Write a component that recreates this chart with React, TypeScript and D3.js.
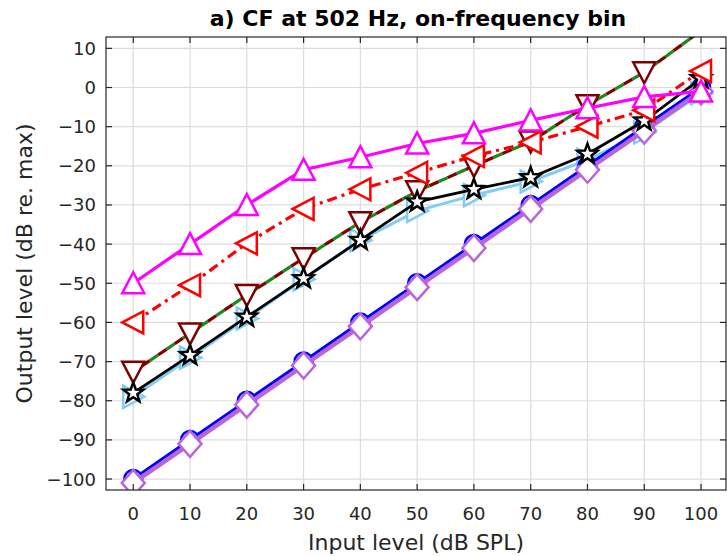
import React from "react";
import * as d3 from "d3";

const inputLevels = [0, 10, 20, 30, 40, 50, 60, 70, 80, 90, 100];
const xTicks = [0, 10, 20, 30, 40, 50, 60, 70, 80, 90, 100];
const yTicks = [10, 0, -10, -20, -30, -40, -50, -60, -70, -80, -90, -100];

const lightBlueSeries = [-79, -69, -59, -49, -39, -31.5, -27.5, -24, -18.5, -11.5, -1.5];
const blueSeries = [-100, -90, -80, -70, -60, -50, -40, -30, -20, -10, 0];
const purpleSeries = [-101, -91, -81, -71, -61, -51, -41, -31, -21, -11, -1];
const greenSeries = [-72.6, -62.8, -53, -43.6, -34.4, -26.5, -20, -13.8, -4.5, 3.9, 14.5];
const maroonSeries = [-72.6, -62.8, -53, -43.6, -34.4, -26.5, -20, -13.8, -4.5, 3.9, 14.5];
const blackSeries = [-78, -68.4, -58.6, -48.8, -39, -29.2, -26, -23, -17, -8.5, 2.3];
const redSeries = [-60, -50.5, -39.8, -31, -26, -21.8, -17.5, -14, -10, -5.8, 4.2];
const magentaSeries = [-50, -40, -30, -21, -17.8, -14.3, -11.7, -8.4, -5.3, -2.4, -1];

const title = "a) CF at 502 Hz, on-frequency bin";
const xLabel = "Input level (dB SPL)";
const yLabel = "Output level (dB re. max)";

type Marker = "none" | "tri-up" | "tri-down" | "tri-left" | "tri-right" | "circle" | "diamond" | "star";

const seriesDefs = [
  { name: "lightblue", values: lightBlueSeries, color: "#80CCF5", width: 3, dash: "", marker: "tri-right" as Marker, mw: 2.5, offset: 0 },
  { name: "blue", values: blueSeries, color: "#0000FF", width: 3.2, dash: "", marker: "circle" as Marker, mw: 2.5, offset: 0 },
  { name: "purple", values: purpleSeries, color: "#BA64DA", width: 4.5, dash: "", marker: "diamond" as Marker, mw: 2.5, offset: 0 },
  { name: "green", values: greenSeries, color: "#1A8A1A", width: 3.2, dash: "10,10", marker: "none" as Marker, mw: 2.5, offset: 0 },
  { name: "maroon", values: maroonSeries, color: "#800000", width: 3.2, dash: "10,10", marker: "tri-down" as Marker, mw: 2.5, offset: 10 },
  { name: "black", values: blackSeries, color: "#000000", width: 2.8, dash: "", marker: "star" as Marker, mw: 2.5, offset: 0 },
  { name: "red", values: redSeries, color: "#FF0000", width: 3.2, dash: "10,5,3,5", marker: "tri-left" as Marker, mw: 2.5, offset: 0 },
  { name: "magenta", values: magentaSeries, color: "#FF00FF", width: 3.2, dash: "", marker: "tri-up" as Marker, mw: 2.5, offset: 0 },
];

function markerPath(m: Marker): string {
  switch (m) {
    case "tri-up":
      return "M0,-11L11,10L-11,10Z";
    case "tri-down":
      return "M0,11L11,-10L-11,-10Z";
    case "tri-left":
      return "M-11,0L10,-11L10,11Z";
    case "tri-right":
      return "M11,0L-10,-11L-10,11Z";
    case "diamond":
      return "M0,-13L11.5,0L0,13L-11.5,0Z";
    case "circle":
      return "M9,0A9,9 0 1,1 -9,0A9,9 0 1,1 9,0Z";
    case "star": {
      const pts: string[] = [];
      for (let i = 0; i < 10; i++) {
        const r = i % 2 === 0 ? 10.5 : 4.3;
        const a = -Math.PI / 2 + (i * Math.PI) / 5;
        pts.push(`${(r * Math.cos(a)).toFixed(2)},${(r * Math.sin(a)).toFixed(2)}`);
      }
      return "M" + pts.join("L") + "Z";
    }
    default:
      return "";
  }
}

const W = 727;
const H = 556;
const left = 106;
const right = 726;
const top = 37;
const bottom = 490;

export default function App() {
  const yDomain: [number, number] = [-102.8, 12.9];
  const x = d3.scaleLinear().domain([-4.8, 104.4]).range([left, right]);
  const y = d3.scaleLinear().domain(yDomain).range([bottom, top]);
  const line = d3
    .line<number>()
    .x((_, i) => x(inputLevels[i]))
    .y((d) => y(d));
  const axisColor = "#262626";
  const font = "'DejaVu Sans', sans-serif";

  return (
    <svg width={W} height={H} style={{ position: "absolute", left: 0, top: 0, background: "#fff" }}>
      <defs>
        <clipPath id="plotclip">
          <rect x={left} y={top} width={right - left} height={bottom - top} />
        </clipPath>
      </defs>
      <rect x={0} y={0} width={W} height={H} fill="#fff" />
      {/* grid */}
      <g stroke="#dcdcdc" strokeWidth={1.2}>
        {xTicks.map((t) => (
          <line key={"gx" + t} x1={x(t)} x2={x(t)} y1={top} y2={bottom} />
        ))}
        {yTicks.map((t) => (
          <line key={"gy" + t} x1={left} x2={right} y1={y(t)} y2={y(t)} />
        ))}
      </g>
      {/* series */}
      <g clipPath="url(#plotclip)">
        {seriesDefs.map((s) => (
          <g key={s.name}>
            <path
              d={line(s.values) || ""}
              fill="none"
              stroke={s.color}
              strokeWidth={s.width}
              strokeDasharray={s.dash || undefined}
              strokeDashoffset={s.offset}
              strokeLinejoin="round"
            />
            {s.marker !== "none" &&
              s.values.map((v, i) =>
                v > yDomain[1] || v < yDomain[0] ? null : (
                  <path
                    key={i}
                    d={markerPath(s.marker)}
                    transform={`translate(${x(inputLevels[i])},${y(v)})`}
                    fill="#fff"
                    stroke={s.color}
                    strokeWidth={s.mw}
                    strokeLinejoin="miter"
                  />
                )
              )}
          </g>
        ))}
      </g>
      {/* axes box */}
      <rect x={left} y={top} width={right - left} height={bottom - top} fill="none" stroke={axisColor} strokeWidth={1.2} />
      <g stroke={axisColor} strokeWidth={1.2}>
        {xTicks.map((t) => (
          <g key={"tx" + t}>
            <line x1={x(t)} x2={x(t)} y1={bottom} y2={bottom - 6} />
            <line x1={x(t)} x2={x(t)} y1={top} y2={top + 6} />
          </g>
        ))}
        {yTicks.map((t) => (
          <g key={"ty" + t}>
            <line x1={left} x2={left + 6} y1={y(t)} y2={y(t)} />
            <line x1={right} x2={right - 6} y1={y(t)} y2={y(t)} />
          </g>
        ))}
      </g>
      {/* tick labels */}
      <g fill={axisColor} fontFamily={font} fontSize={18}>
        {xTicks.map((t) => (
          <text key={"lx" + t} x={x(t)} y={520} textAnchor="middle">
            {t}
          </text>
        ))}
        {yTicks.map((t) => (
          <text key={"ly" + t} x={96} y={y(t)} dy="0.36em" textAnchor="end">
            {t < 0 ? "\u2212" + Math.abs(t) : t}
          </text>
        ))}
      </g>
      <text x={(left + right) / 2} y={550} textAnchor="middle" fill={axisColor} fontFamily={font} fontSize={22}>
        {xLabel}
      </text>
      <text
        transform={`translate(32,${(top + bottom) / 2}) rotate(-90)`}
        textAnchor="middle"
        fill={axisColor}
        fontFamily={font}
        fontSize={22}
      >
        {yLabel}
      </text>
      <text x={418} y={26} textAnchor="middle" fill="#000" fontFamily={font} fontWeight="bold" fontSize={22}>
        {title}
      </text>
    </svg>
  );
}
